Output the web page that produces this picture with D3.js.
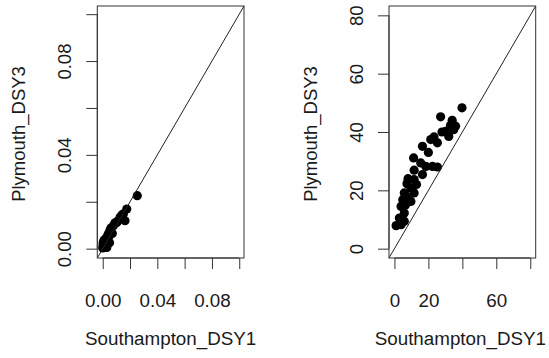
<!DOCTYPE html>
<html>
<head>
<meta charset="utf-8">
<script src="https://cdn.jsdelivr.net/npm/d3@7"></script>
<style>
  body { margin: 0; background: #fff; }
  svg text { font-family: "Liberation Sans", Arial, Helvetica, sans-serif; fill: #1a1a1a; }
</style>
</head>
<body>
<div class="chart"></div>
<script>
// ---- data ----
var southamptonA = [0.0253, 0.0176, 0.0151, 0.0127, 0.0163, 0.0103, 0.0078, 0.0053, 0.0029, 0.0004,
                    0.0000, 0.0010, 0.0040, 0.0060, 0.0090, 0.0110, 0.0140, 0.0002, 0.0020, 0.0015,
                    0.0035, 0.0070, 0.0045, 0.0030, 0.0050];
var plymouthA   = [0.0226, 0.0169, 0.0148, 0.0134, 0.0119, 0.0112, 0.0098, 0.0077, 0.0049, 0.0027,
                    0.0003, 0.0037, 0.0063, 0.0088, 0.0110, 0.0118, 0.0144, 0.0016, 0.0030, 0.0008,
                    0.0040, 0.0065, 0.0052, 0.0005, 0.0025];

var southamptonB = [39.8, 27.2, 34.0, 33.0, 34.9, 30.1, 32.0, 23.3, 21.4, 25.3,
                    16.5, 11.3, 15.5, 18.5, 25.3, 22.4, 11.6, 16.5, 11.6, 7.4,
                    9.7, 5.8, 11.6, 4.9, 9.7, 3.9, 5.8, 2.9, 5.8, 1.0,
                    3.9, 28.0, 36.0, 20.0, 8.0, 7.0, 13.0, 6.5];
var plymouthB   = [48.3, 45.2, 44.0, 42.2, 40.8, 40.2, 38.5, 38.3, 37.4, 36.3,
                    35.1, 31.1, 29.4, 28.2, 28.0, 28.2, 26.9, 25.4, 23.7, 22.3,
                    20.8, 19.1, 19.1, 16.8, 16.2, 14.5, 12.2, 10.5, 9.4, 7.9,
                    8.2, 40.0, 42.0, 33.0, 24.0, 18.0, 22.0, 15.0];

var ticksA = [0, 0.02, 0.04, 0.06, 0.08, 0.10];
var labelsAx = ["0.00", "", "0.04", "", "0.08", ""];
var labelsAy = ["0.00", "", "0.04", "", "0.08", ""];
var ticksB = [0, 20, 40, 60, 80];
var labelsBx = ["0", "20", "", "60", ""];
var labelsBy = ["0", "20", "40", "60", "80"];

var xTitle = "Southampton_DSY1";
var yTitle = "Plymouth_DSY3";

var svgWidth = 549, svgHeight = 358;

var svg = d3.select(".chart")
    .append("svg")
    .attr("width", svgWidth)
    .attr("height", svgHeight);

function panel(opts) {
    // R style: data range extended by 4% on each side
    var lo = 0, hi = opts.max;
    var pad = (hi - lo) * 0.04;

    var x = d3.scaleLinear().domain([lo - pad, hi + pad]).range([opts.left, opts.right]);
    var y = d3.scaleLinear().domain([lo - pad, hi + pad]).range([opts.bottom, opts.top]);

    var g = svg.append("g");

    // points
    g.selectAll("circle")
        .data(opts.xs.map((d, i) => ({x: d, y: opts.ys[i]})))
        .enter()
        .append("circle")
        .attr("cx", d => x(d.x))
        .attr("cy", d => y(d.y))
        .attr("r", 4.6)
        .attr("fill", "#000");

    // y = x line, corner to corner
    g.append("line")
        .attr("x1", x(lo - pad)).attr("y1", y(lo - pad))
        .attr("x2", x(hi + pad)).attr("y2", y(hi + pad))
        .attr("stroke", "#222")
        .attr("stroke-width", 1);

    // box
    g.append("rect")
        .attr("x", opts.left).attr("y", opts.top)
        .attr("width", opts.right - opts.left)
        .attr("height", opts.bottom - opts.top)
        .attr("fill", "none")
        .attr("stroke", "#333")
        .attr("stroke-width", 1);

    // x axis
    var xAxis = d3.axisBottom(x)
        .tickValues(opts.ticks)
        .tickSize(11)
        .tickFormat((d, i) => opts.xLabels[i]);
    var gx = g.append("g")
        .attr("transform", `translate(0, ${opts.bottom})`)
        .call(xAxis);
    gx.select(".domain").remove();
    gx.append("line")
        .attr("x1", x(opts.ticks[0])).attr("x2", x(opts.ticks[opts.ticks.length - 1]))
        .attr("stroke", "#333");
    gx.selectAll(".tick line").attr("stroke", "#333");
    gx.selectAll("text")
        .attr("y", 48.5)
        .attr("dy", null)
        .style("font-size", "18.8px")
        .attr("fill", "#1a1a1a");

    // y axis
    var yAxis = d3.axisLeft(y)
        .tickValues(opts.ticks)
        .tickSize(11)
        .tickFormat((d, i) => opts.yLabels[i]);
    var gy = g.append("g")
        .attr("transform", `translate(${opts.left}, 0)`)
        .call(yAxis);
    gy.select(".domain").remove();
    gy.append("line")
        .attr("y1", y(opts.ticks[0])).attr("y2", y(opts.ticks[opts.ticks.length - 1]))
        .attr("stroke", "#333");
    gy.selectAll(".tick line").attr("stroke", "#333");
    gy.selectAll("text")
        .attr("x", 0)
        .attr("dy", null)
        .attr("text-anchor", "middle")
        .attr("transform", "translate(-26, 0) rotate(-90)")
        .style("font-size", "18.5px")
        .attr("fill", "#1a1a1a");

    // titles
    g.append("text")
        .attr("x", (opts.left + opts.right) / 2 + opts.titleShift)
        .attr("y", 345)
        .attr("text-anchor", "middle")
        .style("font-size", "18.8px")
        .text(xTitle);

    g.append("text")
        .attr("transform", `translate(${opts.left - 72}, ${(opts.top + opts.bottom) / 2 + 2}) rotate(-90)`)
        .attr("text-anchor", "middle")
        .style("font-size", "18.5px")
        .text(yTitle);
}

panel({left: 97.3, right: 244, top: 6, bottom: 258, max: 0.0995, titleShift: 0,
       xs: southamptonA, ys: plymouthA, ticks: ticksA, xLabels: labelsAx, yLabels: labelsAy});

panel({left: 389, right: 535.7, top: 6, bottom: 258, max: 80, titleShift: -2,
       xs: southamptonB, ys: plymouthB, ticks: ticksB, xLabels: labelsBx, yLabels: labelsBy});
</script>
</body>
</html>
